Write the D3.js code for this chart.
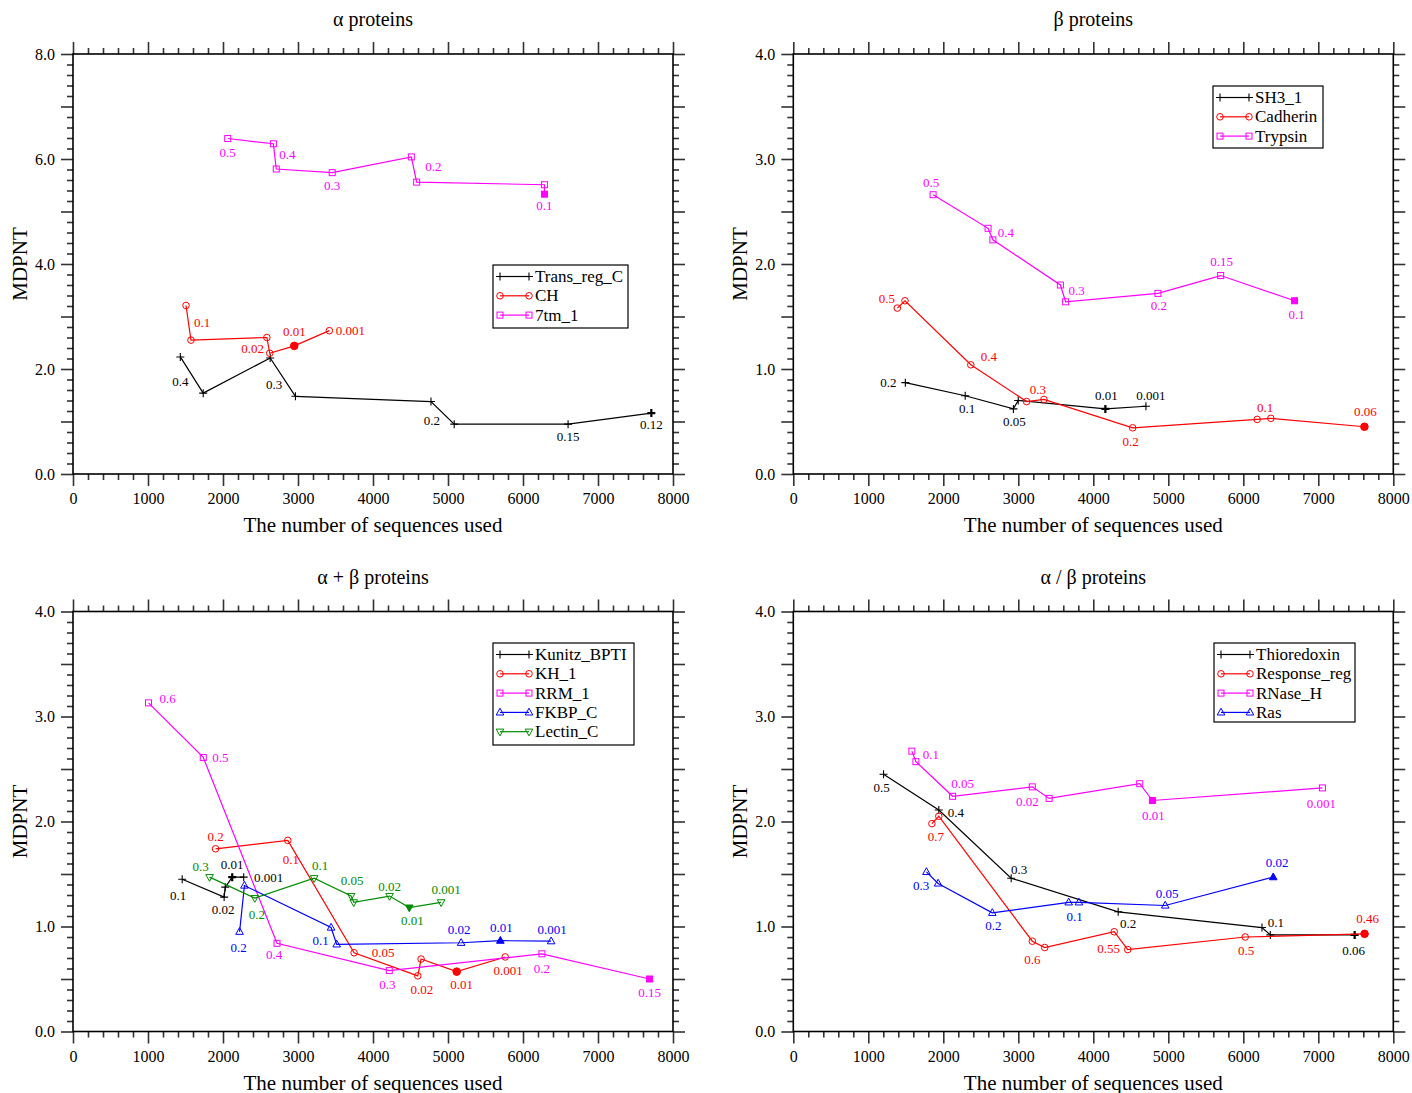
<!DOCTYPE html>
<html><head><meta charset="utf-8">
<script src="https://cdn.jsdelivr.net/npm/d3@7"></script>
<style>
body{margin:0;background:#fff}
svg{display:block}
text{font-family:"Liberation Serif","Times New Roman",serif;fill:#000}
</style>
</head><body>
<svg id="c" width="1412" height="1093"></svg>
<script>
// ---------------- DATA ----------------
const panelTitles = ["α proteins", "β proteins", "α + β proteins", "α / β proteins"];
const xLabel = "The number of sequences used";
const yLabel = "MDPNT";
const xTicks = [0,1000,2000,3000,4000,5000,6000,7000,8000];
const yMaxes = [8, 4, 4, 4];

// α proteins
const transRegX = [1431, 1736, 2629, 2966, 4773, 5083, 6601, 7711];
const transRegY = [2.23, 1.54, 2.21, 1.48, 1.38, 0.95, 0.95, 1.16];
const transRegLabels = [[0,"0.4"],[2,"0.3"],[4,"0.2"],[6,"0.15"],[7,"0.12"]];
const chX = [1507, 1573, 2585, 2623, 2950, 3418];
const chY = [3.21, 2.55, 2.60, 2.30, 2.44, 2.73];
const chLabels = [[0,"0.1"],[3,"0.02"],[4,"0.01"],[5,"0.001"]];
const tm1X = [2063, 2672, 2710, 3456, 4511, 4582, 6286, 6286];
const tm1Y = [6.39, 6.29, 5.81, 5.74, 6.04, 5.56, 5.51, 5.33];
const tm1Labels = [[0,"0.5"],[1,"0.4"],[3,"0.3"],[4,"0.2"],[7,"0.1"]];

// β proteins
const sh3X = [1494, 2292, 2935, 2999, 4161, 4702];
const sh3Y = [0.87, 0.745, 0.62, 0.70, 0.62, 0.645];
const sh3Labels = [[0,"0.2"],[1,"0.1"],[2,"0.05"],[4,"0.01"],[5,"0.001"]];
const cadX = [1387, 1489, 2367, 3111, 3342, 4525, 6185, 6367, 7615];
const cadY = [1.58, 1.65, 1.04, 0.69, 0.71, 0.44, 0.52, 0.53, 0.45];
const cadLabels = [[1,"0.5"],[2,"0.4"],[4,"0.3"],[5,"0.2"],[6,"0.1"],[8,"0.06"]];
const trypX = [1864, 2597, 2661, 3561, 3631, 4862, 5698, 6683];
const trypY = [2.66, 2.34, 2.23, 1.80, 1.64, 1.72, 1.89, 1.65];
const trypLabels = [[0,"0.5"],[2,"0.4"],[4,"0.3"],[5,"0.2"],[6,"0.15"],[7,"0.1"]];

// α + β proteins
const kunX = [1456, 2015, 2030, 2123, 2276];
const kunY = [1.45, 1.28, 1.375, 1.47, 1.47];
const kunLabels = [[0,"0.1"],[1,"0.02"],[3,"0.01"],[4,"0.001"]];
const khX = [1901, 2864, 3748, 4597, 4641, 5116, 5763];
const khY = [1.74, 1.82, 0.75, 0.53, 0.69, 0.57, 0.71];
const khLabels = [[0,"0.2"],[1,"0.1"],[2,"0.05"],[3,"0.02"],[5,"0.01"],[6,"0.001"]];
const rrmX = [1007, 1737, 2720, 4217, 6252, 7688];
const rrmY = [3.13, 2.61, 0.84, 0.58, 0.74, 0.50];
const rrmLabels = [[0,"0.6"],[1,"0.5"],[2,"0.4"],[3,"0.3"],[4,"0.2"],[5,"0.15"]];
const fkbpX = [2221, 2286, 3441, 3516, 5175, 5698, 6375];
const fkbpY = [0.95, 1.39, 0.99, 0.83, 0.845, 0.865, 0.86];
const fkbpLabels = [[0,"0.2"],[3,"0.1"],[4,"0.02"],[5,"0.01"],[6,"0.001"]];
const lecX = [1821, 2424, 3215, 3708, 3743, 4221, 4484, 4908];
const lecY = [1.47, 1.27, 1.46, 1.29, 1.23, 1.29, 1.18, 1.23];
const lecLabels = [[0,"0.3"],[1,"0.2"],[2,"0.1"],[3,"0.05"],[5,"0.02"],[6,"0.01"],[7,"0.001"]];

// α / β proteins
const thioX = [1203, 1940, 2905, 4332, 6249, 6360, 7485];
const thioY = [2.45, 2.11, 1.46, 1.14, 0.99, 0.92, 0.92];
const thioLabels = [[0,"0.5"],[1,"0.4"],[2,"0.3"],[3,"0.2"],[4,"0.1"],[6,"0.06"]];
const respX = [1848, 1940, 3187, 3352, 4279, 4459, 6025, 7617];
const respY = [1.98, 2.05, 0.86, 0.80, 0.95, 0.78, 0.90, 0.93];
const respLabels = [[0,"0.7"],[2,"0.6"],[5,"0.55"],[6,"0.5"],[7,"0.46"]];
const rnaseX = [1581, 1635, 2124, 3187, 3411, 4619, 4788, 7055];
const rnaseY = [2.67, 2.57, 2.24, 2.33, 2.22, 2.36, 2.20, 2.32];
const rnaseLabels = [[0,"0.1"],[2,"0.05"],[3,"0.02"],[6,"0.01"],[7,"0.001"]];
const rasX = [1775, 1931, 2653, 3672, 3808, 4959, 6399];
const rasY = [1.52, 1.41, 1.13, 1.23, 1.23, 1.20, 1.47];
const rasLabels = [[1,"0.3"],[2,"0.2"],[3,"0.1"],[5,"0.05"],[6,"0.02"]];

// ---------------- STYLE / LAYOUT ----------------
const C = {black:"#000000", red:"#ff0000", magenta:"#ff00ff", blue:"#0000ff", green:"#008c00"};
// label offsets in px (dx,dy) for each label, same order as label lists
const OFF = {
  transReg:[[0,25],[4,27],[1,19],[0,12],[0,11]],
  ch:[[16,17],[-17,-5],[0,-14],[21,0]],
  tm1:[[0,14],[14,11],[0,13],[22,10],[0,11]],
  sh3:[[-17,0],[2,13],[1,13],[1,-13],[5,-11]],
  cad:[[-18,-2],[18,-8],[-6,-10],[-2,14],[8,-12],[1,-15]],
  tryp:[[-2,-12],[13,-7],[11,-11],[1,12],[1,-14],[2,14]],
  kun:[[-4,16],[-1,12],[0,-13],[25,0]],
  kh:[[0,-12],[3,19],[29,0],[4,14],[5,13],[3,14]],
  rrm:[[19,-4],[17,0],[-3,11],[-2,14],[0,15],[0,13]],
  fkbp:[[-1,16],[-16,-4],[-2,-13],[1,-13],[1,-12]],
  lec:[[-9,-11],[2,16],[6,-13],[1,-16],[0,-10],[3,13],[5,-13]],
  thio:[[-2,13],[17,3],[8,-9],[10,12],[14,-5],[-1,16]],
  resp:[[4,13],[0,18],[-19,-1],[1,13],[3,-15]],
  rnase:[[19,3],[10,-13],[-5,15],[1,15],[-1,16]],
  ras:[[-17,2],[1,13],[6,14],[2,-12],[4,-15]]
};

const panels = [
  {title:panelTitles[0], yMax:yMaxes[0], x0:73, top:54, bottom:474, legend:{x:493,y:265,w:135,h:63},
   series:[
    {name:"Trans_reg_C", color:C.black, marker:"plus", xs:transRegX, ys:transRegY, filled:7, labels:transRegLabels, off:OFF.transReg},
    {name:"CH", color:C.red, marker:"circle", xs:chX, ys:chY, filled:4, labels:chLabels, off:OFF.ch},
    {name:"7tm_1", color:C.magenta, marker:"square", xs:tm1X, ys:tm1Y, filled:7, labels:tm1Labels, off:OFF.tm1}
  ]},
  {title:panelTitles[1], yMax:yMaxes[1], x0:793.3, top:54, bottom:474, legend:{x:1213,y:86,w:110,h:62},
   series:[
    {name:"SH3_1", color:C.black, marker:"plus", xs:sh3X, ys:sh3Y, filled:4, labels:sh3Labels, off:OFF.sh3},
    {name:"Cadherin", color:C.red, marker:"circle", xs:cadX, ys:cadY, filled:8, labels:cadLabels, off:OFF.cad},
    {name:"Trypsin", color:C.magenta, marker:"square", xs:trypX, ys:trypY, filled:7, labels:trypLabels, off:OFF.tryp}
  ]},
  {title:panelTitles[2], yMax:yMaxes[2], x0:73, top:611.5, bottom:1031.5, legend:{x:493,y:643,w:141,h:102},
   series:[
    {name:"Kunitz_BPTI", color:C.black, marker:"plus", xs:kunX, ys:kunY, filled:3, labels:kunLabels, off:OFF.kun},
    {name:"KH_1", color:C.red, marker:"circle", xs:khX, ys:khY, filled:5, labels:khLabels, off:OFF.kh},
    {name:"RRM_1", color:C.magenta, marker:"square", xs:rrmX, ys:rrmY, filled:5, labels:rrmLabels, off:OFF.rrm},
    {name:"FKBP_C", color:C.blue, marker:"tri", xs:fkbpX, ys:fkbpY, filled:5, labels:fkbpLabels, off:OFF.fkbp},
    {name:"Lectin_C", color:C.green, marker:"tridown", xs:lecX, ys:lecY, filled:6, labels:lecLabels, off:OFF.lec}
  ]},
  {title:panelTitles[3], yMax:yMaxes[3], x0:793.3, top:611.5, bottom:1031.5, legend:{x:1214,y:643,w:141,h:79},
   series:[
    {name:"Thioredoxin", color:C.black, marker:"plus", xs:thioX, ys:thioY, filled:6, labels:thioLabels, off:OFF.thio},
    {name:"Response_reg", color:C.red, marker:"circle", xs:respX, ys:respY, filled:7, labels:respLabels, off:OFF.resp},
    {name:"RNase_H", color:C.magenta, marker:"square", xs:rnaseX, ys:rnaseY, filled:6, labels:rnaseLabels, off:OFF.rnase},
    {name:"Ras", color:C.blue, marker:"tri", xs:rasX, ys:rasY, filled:6, labels:rasLabels, off:OFF.ras}
  ]}
];

const svg = d3.select("#c");
const PW = 600;

function marker(g, type, x, y, color, filled){
  if(type==="plus"){
    g.append("path").attr("d",`M${x-4},${y}H${x+4}M${x},${y-4}V${y+4}`)
      .attr("stroke",color).attr("stroke-width",filled?2.2:1.1).attr("fill","none");
  } else if(type==="circle"){
    g.append("circle").attr("cx",x).attr("cy",y).attr("r",filled?3.8:3.3)
      .attr("stroke",color).attr("stroke-width",1).attr("fill",filled?color:"none");
  } else if(type==="square"){
    g.append("rect").attr("x",x-3).attr("y",y-3).attr("width",6).attr("height",6)
      .attr("stroke",color).attr("stroke-width",1).attr("fill",filled?color:"none");
  } else if(type==="tri"){
    g.append("path").attr("d",`M${x},${y-4.2}L${x-3.8},${y+2.6}L${x+3.8},${y+2.6}Z`)
      .attr("stroke",color).attr("stroke-width",1).attr("fill",filled?color:"none");
  } else if(type==="tridown"){
    g.append("path").attr("d",`M${x},${y+4.2}L${x-3.8},${y-2.6}L${x+3.8},${y-2.6}Z`)
      .attr("stroke",color).attr("stroke-width",1).attr("fill",filled?color:"none");
  }
}

panels.forEach(p=>{
  const x = d3.scaleLinear().domain([0,8000]).range([p.x0, p.x0+PW]);
  const y = d3.scaleLinear().domain([0,p.yMax]).range([p.bottom, p.top]);
  const major = p.yMax===8 ? 1 : 0.5;
  const yMajor = d3.range(0, p.yMax+1e-9, major);
  const yMinor = d3.range(0, p.yMax+1e-9, major/5).filter(v=>Math.abs(v/major-Math.round(v/major))>1e-6);
  const yLab = d3.range(0, p.yMax+1e-9, major*2);
  const xMinor = d3.range(0, 8001, 200).filter(v=>v%1000!==0);
  const g = svg.append("g");
  const tickCol = "#333";

  function axis(gen, values, size, tf, transform){
    const a = g.append("g").attr("transform",transform)
      .call(gen.tickValues(values).tickSize(size).tickSizeOuter(0).tickFormat(tf).tickPadding(6));
    a.select(".domain").remove();
    a.selectAll("line").attr("stroke",tickCol).attr("stroke-width",1.6);
    a.selectAll("text").attr("font-size",16).attr("font-family","Liberation Serif, serif").attr("fill","#000");
    return a;
  }
  // bottom
  axis(d3.axisBottom(x), xMinor, 6, "", `translate(0,${p.bottom})`);
  const bx = axis(d3.axisBottom(x), xTicks, 12, d3.format("d"), `translate(0,${p.bottom})`);
  bx.selectAll("text").attr("dy","0.71em").attr("y",19);
  // top
  axis(d3.axisTop(x), xMinor, 6, "", `translate(0,${p.top})`);
  axis(d3.axisTop(x), xTicks, 12, "", `translate(0,${p.top})`);
  // left
  axis(d3.axisLeft(y), yMinor, 6, "", `translate(${p.x0},0)`);
  axis(d3.axisLeft(y), yMajor, 12, "", `translate(${p.x0},0)`);
  const ly = g.append("g").attr("transform",`translate(${p.x0},0)`)
    .call(d3.axisLeft(y).tickValues(yLab).tickSize(0).tickPadding(18).tickFormat(d3.format(".1f")));
  ly.select(".domain").remove();
  ly.selectAll("text").attr("font-size",16).attr("font-family","Liberation Serif, serif").attr("fill","#000");
  // right
  axis(d3.axisRight(y), yMinor, 6, "", `translate(${p.x0+PW},0)`);
  axis(d3.axisRight(y), yMajor, 12, "", `translate(${p.x0+PW},0)`);

  // frame
  g.append("rect").attr("x",p.x0).attr("y",p.top).attr("width",PW).attr("height",p.bottom-p.top)
    .attr("fill","none").attr("stroke","#000").attr("stroke-width",1.6);

  // titles
  const cx = p.x0+PW/2;
  g.append("text").attr("x",cx).attr("y",p.top-28).attr("text-anchor","middle").attr("font-size",20).text(p.title);
  g.append("text").attr("x",cx).attr("y",p.bottom+58).attr("text-anchor","middle").attr("font-size",21).text(xLabel);
  g.append("text").attr("transform",`translate(${p.x0-46},${(p.top+p.bottom)/2}) rotate(-90)`)
    .attr("text-anchor","middle").attr("font-size",21).text(yLabel);

  // series
  const line = d3.line().x(d=>x(d[0])).y(d=>y(d[1]));
  p.series.forEach(s=>{
    const pts = s.xs.map((v,i)=>[v, s.ys[i]]);
    const sg = g.append("g");
    sg.append("path").attr("d",line(pts)).attr("fill","none").attr("stroke",s.color).attr("stroke-width",1.2);
    pts.forEach((d,i)=>marker(sg, s.marker, x(d[0]), y(d[1]), s.color, i===s.filled));
    s.labels.forEach((l,k)=>{
      const d = pts[l[0]], o = s.off[k];
      sg.append("text").attr("x",x(d[0])+o[0]).attr("y",y(d[1])+o[1])
        .attr("text-anchor","middle").attr("dominant-baseline","central")
        .attr("font-size",13).attr("fill",s.color).style("fill",s.color).text(l[1]);
    });
  });

  // legend
  const L = p.legend;
  const lg = g.append("g");
  lg.append("rect").attr("x",L.x).attr("y",L.y).attr("width",L.w).attr("height",L.h)
    .attr("fill","#fff").attr("stroke","#000").attr("stroke-width",1.2);
  p.series.forEach((s,i)=>{
    const ry = L.y + 11.5 + i*19.3;
    lg.append("line").attr("x1",L.x+7).attr("x2",L.x+36).attr("y1",ry).attr("y2",ry)
      .attr("stroke",s.color).attr("stroke-width",1.2);
    marker(lg, s.marker, L.x+7, ry, s.color, false);
    marker(lg, s.marker, L.x+36, ry, s.color, false);
    lg.append("text").attr("x",L.x+42).attr("y",ry).attr("dominant-baseline","central")
      .attr("font-size",17).text(s.name);
  });
});
</script>
</body></html>
